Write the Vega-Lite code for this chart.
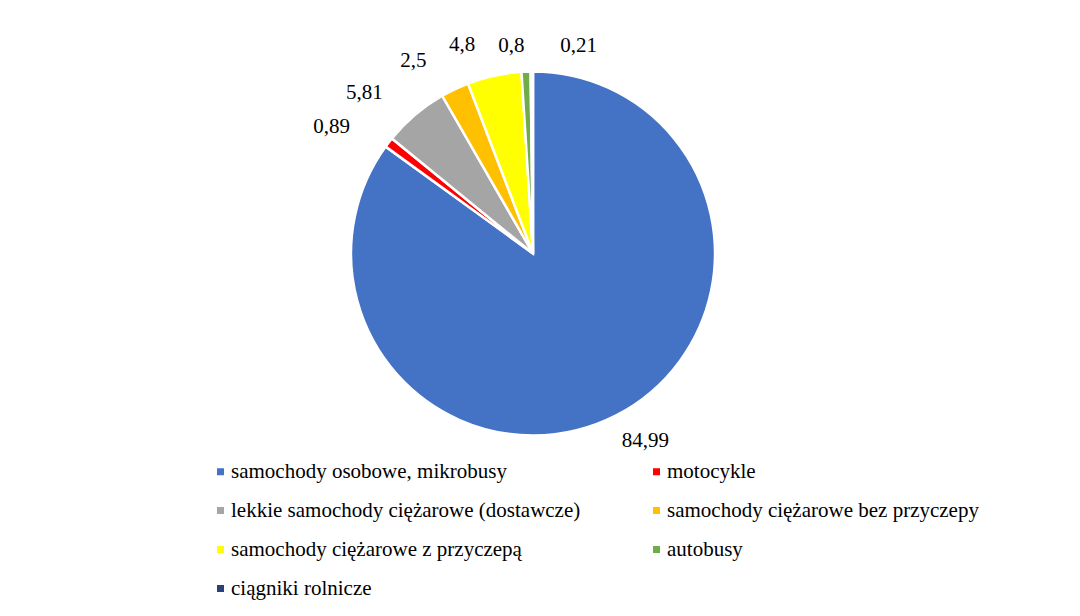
{
  "$schema": "https://vega.github.io/schema/vega-lite/v6.json",
  "width": 1066,
  "height": 507,
  "autosize": "none",
  "padding": {"left": 0, "top": 0, "right": 14, "bottom": 109},
  "background": "white",
  "config": {
    "view": {"stroke": null},
    "locale": {"number": {"decimal": ",", "thousands": "\u00a0", "grouping": [3], "currency": ["", " zł"]}},
    "text": {"font": "Liberation Serif", "fontSize": 21, "fill": "black", "align": "center", "baseline": "middle"}
  },
  "data": {
    "values": [
      {"n": 1, "kategoria": "samochody osobowe, mikrobusy", "value": 84.99},
      {"n": 2, "kategoria": "motocykle", "value": 0.89},
      {"n": 3, "kategoria": "lekkie samochody ciężarowe (dostawcze)", "value": 5.81},
      {"n": 4, "kategoria": "samochody ciężarowe bez przyczepy", "value": 2.5},
      {"n": 5, "kategoria": "samochody ciężarowe z przyczepą", "value": 4.8},
      {"n": 6, "kategoria": "autobusy", "value": 0.8},
      {"n": 7, "kategoria": "ciągniki rolnicze", "value": 0.21}
    ]
  },
  "encoding": {
    "theta": {"field": "value", "type": "quantitative", "stack": true},
    "order": {"field": "n", "type": "quantitative"}
  },
  "layer": [
    {
      "mark": {"type": "arc", "outerRadius": 182, "stroke": "white", "strokeWidth": 2.5},
      "encoding": {
        "color": {
          "field": "kategoria",
          "type": "nominal",
          "sort": null,
          "scale": {
            "domain": ["samochody osobowe, mikrobusy", "motocykle", "lekkie samochody ciężarowe (dostawcze)", "samochody ciężarowe bez przyczepy", "samochody ciężarowe z przyczepą", "autobusy", "ciągniki rolnicze"],
            "range": ["#4472C4", "#FF0000", "#A5A5A5", "#FFC000", "#FFFF00", "#70AD47", "#264478"]
          },
          "legend": {
            "orient": "none",
            "legendX": 210,
            "legendY": 461,
            "columns": 2,
            "direction": "horizontal",
            "title": null,
            "padding": 0,
            "symbolType": "square",
            "symbolSize": 49,
            "symbolStrokeWidth": 0,
            "labelFont": "Liberation Serif",
            "labelFontSize": 21,
            "labelColor": "black",
            "labelOffset": 0,
            "labelLimit": 600,
            "rowPadding": 17,
            "columnPadding": 65,
            "gridAlign": "each"
          }
        }
      }
    },
    {
      "mark": {"type": "text", "radius": 225, "dx": -23, "dy": 11},
      "encoding": {
        "text": {"condition": {"test": "datum.n >= 2 && datum.n <= 5", "field": "value", "type": "quantitative", "format": "~g"}, "value": ""}
      }
    },
    {
      "mark": {"type": "text", "radius": 210, "dx": 17, "dy": 0},
      "encoding": {
        "text": {"condition": {"test": "datum.n == 1", "field": "value", "type": "quantitative", "format": "~g"}, "value": ""}
      }
    },
    {
      "mark": {"type": "text", "radius": 225, "dx": -13, "dy": 17},
      "encoding": {
        "text": {"condition": {"test": "datum.n == 6", "field": "value", "type": "quantitative", "format": "~g"}, "value": ""}
      }
    },
    {
      "mark": {"type": "text", "radius": 225, "dx": 47, "dy": 17},
      "encoding": {
        "text": {"condition": {"test": "datum.n == 7", "field": "value", "type": "quantitative", "format": "~g"}, "value": ""}
      }
    }
  ]
}
